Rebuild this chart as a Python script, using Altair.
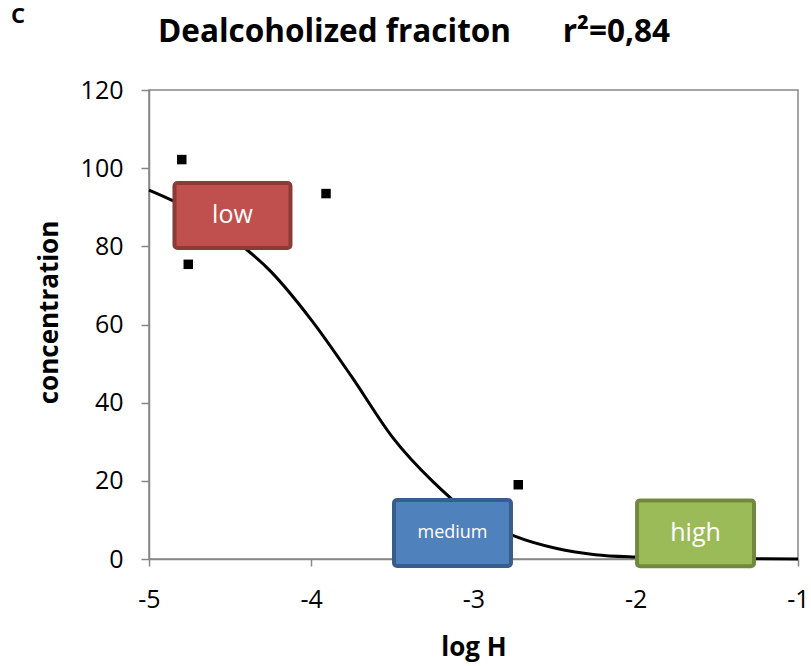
import altair as alt
import pandas as pd

# Fitted dose-response curve (log H vs concentration)
fit_x = [-5.0, -4.75, -4.5, -4.25, -4.0, -3.75, -3.5, -3.25, -3.0,
         -2.75, -2.5, -2.25, -2.0, -1.75, -1.5, -1.25, -1.0]
fit_y = [94.4, 89.5, 82.5, 73.6, 61.2, 46.6, 31.2, 19.8, 11.0,
         5.9, 2.8, 1.1, 0.5, 0.25, 0.1, 0.05, 0.02]

# Measured points
obs_x = [-4.798, -4.758, -3.909, -2.724]
obs_y = [102.2, 75.4, 93.5, 19.0]

# Range boxes (in data units)
box_labels = ["low", "medium", "high"]
box_x0 = [-4.843, -3.490, -1.992]
box_x1 = [-4.128, -2.769, -1.271]
box_y0 = [79.6, -1.8, -1.87]
box_y1 = [96.2, 15.1, 15.0]
box_fill = ["#C0504D", "#4F81BD", "#9BBB59"]
box_edge = ["#8C3A38", "#385D8A", "#71893F"]

x_ticks = [-5, -4, -3, -2, -1]
y_ticks = [0, 20, 40, 60, 80, 100, 120]

fit_df = pd.DataFrame({"logH": fit_x, "conc": fit_y})
obs_df = pd.DataFrame({"logH": obs_x, "conc": obs_y})
box_df = pd.DataFrame({"label": box_labels, "x0": box_x0, "x1": box_x1,
                       "y0": box_y0, "y1": box_y1})

FONT = "Open Sans"
xs = alt.Scale(domain=[-5, -1], nice=False, zero=False)
ys = alt.Scale(domain=[0, 120], nice=False)

x_axis = alt.Axis(values=x_ticks, title="log H", grid=False, tickSize=7,
                  labelPadding=21, titlePadding=22, labelFlush=False,
                  labelExpr="'' + datum.value")
y_axis = alt.Axis(values=y_ticks, title="concentration", grid=False, tickSize=8,
                  labelPadding=18, titlePadding=18, titleY=222,
                  labelExpr="'' + datum.value")

curve = alt.Chart(fit_df).mark_line(color="black", strokeWidth=3,
                                    interpolate="monotone").encode(
    x=alt.X("logH:Q", scale=xs, axis=x_axis),
    y=alt.Y("conc:Q", scale=ys, axis=y_axis),
)

points = alt.Chart(obs_df).mark_square(color="black", size=90, opacity=1).encode(
    x=alt.X("logH:Q", scale=xs),
    y=alt.Y("conc:Q", scale=ys),
)

boxes = alt.Chart(box_df).mark_rect(cornerRadius=3, strokeWidth=4, opacity=1).encode(
    x=alt.X("x0:Q", scale=xs),
    x2="x1:Q",
    y=alt.Y("y0:Q", scale=ys),
    y2="y1:Q",
    fill=alt.Fill("label:N", scale=alt.Scale(domain=box_labels, range=box_fill), legend=None),
    stroke=alt.Stroke("label:N", scale=alt.Scale(domain=box_labels, range=box_edge), legend=None),
)

box_text = alt.Chart(box_df).transform_calculate(
    xm="(datum.x0 + datum.x1) / 2",
    ym="(datum.y0 + datum.y1) / 2",
    fs="datum.label == 'medium' ? 18 : 25",
).mark_text(color="white", font=FONT, baseline="middle", align="center").encode(
    x=alt.X("xm:Q", scale=xs),
    y=alt.Y("ym:Q", scale=ys),
    text="label:N",
    size=alt.Size("fs:Q", scale=None, legend=None),
)

title_left = alt.Chart(pd.DataFrame({"t": ["Dealcoholized fraciton"]})).mark_text(
    font=FONT, fontWeight="bold", fontSize=31.5, align="left", baseline="alphabetic",
    color="black",
).encode(x=alt.value(9), y=alt.value(-48), text="t:N")

title_right = alt.Chart(pd.DataFrame({"t": ["r²=0,84"]})).mark_text(
    font=FONT, fontWeight="bold", fontSize=31.5, align="right", baseline="alphabetic",
    color="black",
).encode(x=alt.value(521), y=alt.value(-48), text="t:N")

panel_tag = alt.Chart(pd.DataFrame({"t": ["C"]})).mark_text(
    font=FONT, fontWeight="bold", fontSize=22, align="left", baseline="alphabetic",
    color="black",
).encode(x=alt.value(-138), y=alt.value(-67), text="t:N")

chart = alt.layer(
    curve, points, boxes, box_text, title_left, title_right, panel_tag
).properties(
    width=649, height=469,
    autosize=alt.AutoSizeParams(type="none"),
    padding={"left": 149, "top": 90, "right": 13, "bottom": 107},
    background="white",
).configure_view(
    stroke="#868686", strokeWidth=1.5,
).configure_axis(
    domainColor="#868686", domainWidth=1.5, tickColor="#868686", tickWidth=1.5,
    labelFont=FONT, labelFontSize=25, labelColor="black",
    titleFont=FONT, titleFontSize=26, titleFontWeight="bold", titleColor="black",
)

chart.save("out.html", embed_options={"renderer": "svg", "actions": False})
